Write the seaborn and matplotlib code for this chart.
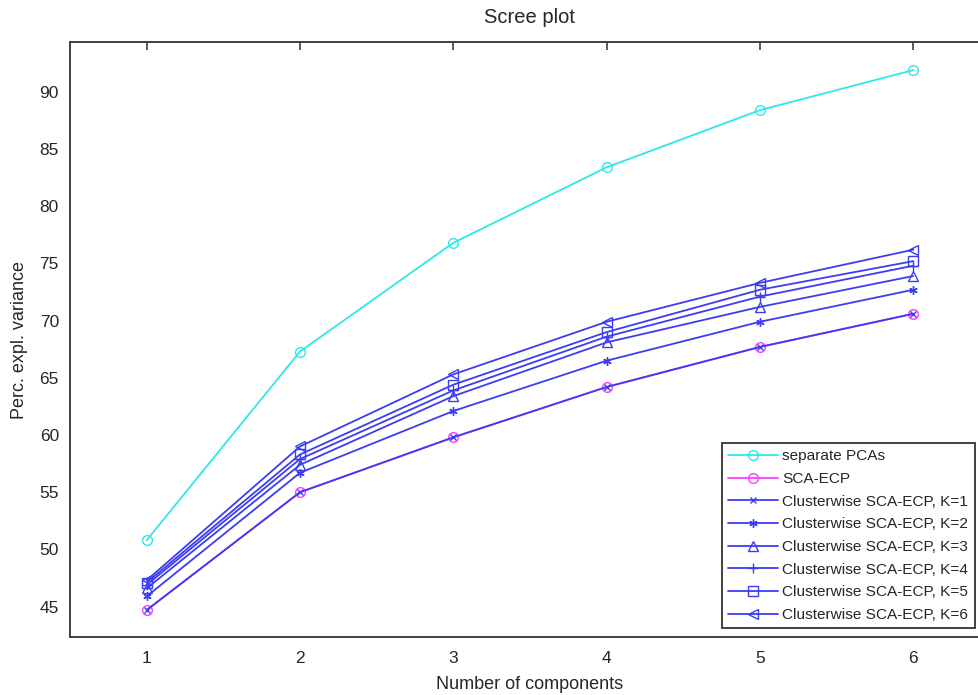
import matplotlib
matplotlib.use("Agg")
import pandas as pd
import matplotlib.pyplot as plt
import seaborn as sns

componentes = [1, 2, 3, 4, 5, 6]
separate_pcas = [50.8, 67.3, 76.8, 83.4, 88.4, 91.9]
sca_ecp = [44.7, 55.0, 59.8, 64.2, 67.7, 70.6]
k1 = [44.7, 55.0, 59.8, 64.2, 67.7, 70.6]
k2 = [45.9, 56.7, 62.1, 66.5, 69.9, 72.7]
k3 = [46.6, 57.4, 63.4, 68.1, 71.2, 73.9]
k4 = [46.9, 57.9, 63.9, 68.6, 72.1, 74.8]
k5 = [47.1, 58.3, 64.4, 69.0, 72.7, 75.2]
k6 = [47.3, 59.0, 65.3, 69.9, 73.3, 76.2]

nomes = ["separate PCAs", "SCA-ECP",
         "Clusterwise SCA-ECP, K=1", "Clusterwise SCA-ECP, K=2",
         "Clusterwise SCA-ECP, K=3", "Clusterwise SCA-ECP, K=4",
         "Clusterwise SCA-ECP, K=5", "Clusterwise SCA-ECP, K=6"]
valores = [separate_pcas, sca_ecp, k1, k2, k3, k4, k5, k6]

CIANO = "#2ee8e8"
MAGENTA = "#ff3cff"
AZUL = "#3c3cf5"
# cor, marcador, tamanho
estilos = {
    "separate PCAs": (CIANO, "o", 7),
    "SCA-ECP": (MAGENTA, "o", 7),
    "Clusterwise SCA-ECP, K=1": (AZUL, "x", 4.5),
    "Clusterwise SCA-ECP, K=2": (AZUL, (6, 2, 0), 6),
    "Clusterwise SCA-ECP, K=3": (AZUL, "^", 7),
    "Clusterwise SCA-ECP, K=4": (AZUL, "+", 7),
    "Clusterwise SCA-ECP, K=5": (AZUL, "s", 6.5),
    "Clusterwise SCA-ECP, K=6": (AZUL, "<", 7),
}

df = pd.DataFrame(
    [(n, c, v) for n, vals in zip(nomes, valores) for c, v in zip(componentes, vals)],
    columns=["serie", "componentes", "variancia"],
)

sns.set_style("white")
plt.rcParams["font.family"] = ["Liberation Sans", "DejaVu Sans"]

fig = plt.figure(figsize=(9.79, 6.95), dpi=100)
ax = fig.add_axes([0.0715, 0.0835, 0.9397, 0.856])

for nome in nomes:
    cor, marcador, tam = estilos[nome]
    sns.lineplot(
        data=df[df["serie"] == nome], x="componentes", y="variancia",
        ax=ax, color=cor, marker=marcador, markersize=tam,
        markerfacecolor="none", markeredgecolor=cor, markeredgewidth=1.0,
        linewidth=1.3, label=nome,
    )

ax.set_xlim(0.5, 6.5)
ax.set_ylim(42.35, 94.35)
ax.set_xticks(componentes)
ax.set_yticks(range(45, 95, 5))
ax.tick_params(direction="in", length=6, width=1.2, color="#404040",
               labelsize=12.5, top=True, right=True, pad=8)
ax.tick_params(axis="x", pad=10)
for sp in ax.spines.values():
    sp.set_color("#404040")
    sp.set_linewidth(1.4)

ax.set_title("Scree plot", fontsize=14.5, pad=14)
ax.set_xlabel("Number of components", fontsize=13, labelpad=7)
ax.set_ylabel("Perc. expl. variance", fontsize=13, labelpad=8)

leg = ax.legend(loc="upper left", bbox_to_anchor=(0.7087, 0.326),
                fontsize=11.1, frameon=True, fancybox=False, framealpha=1,
                handlelength=3.2, handletextpad=0.3, labelspacing=0.56,
                borderaxespad=0, borderpad=0.42)
leg.get_frame().set_edgecolor("#404040")
leg.get_frame().set_linewidth(1.4)

fig.savefig("out.png", dpi=100)
plt.close(fig)
